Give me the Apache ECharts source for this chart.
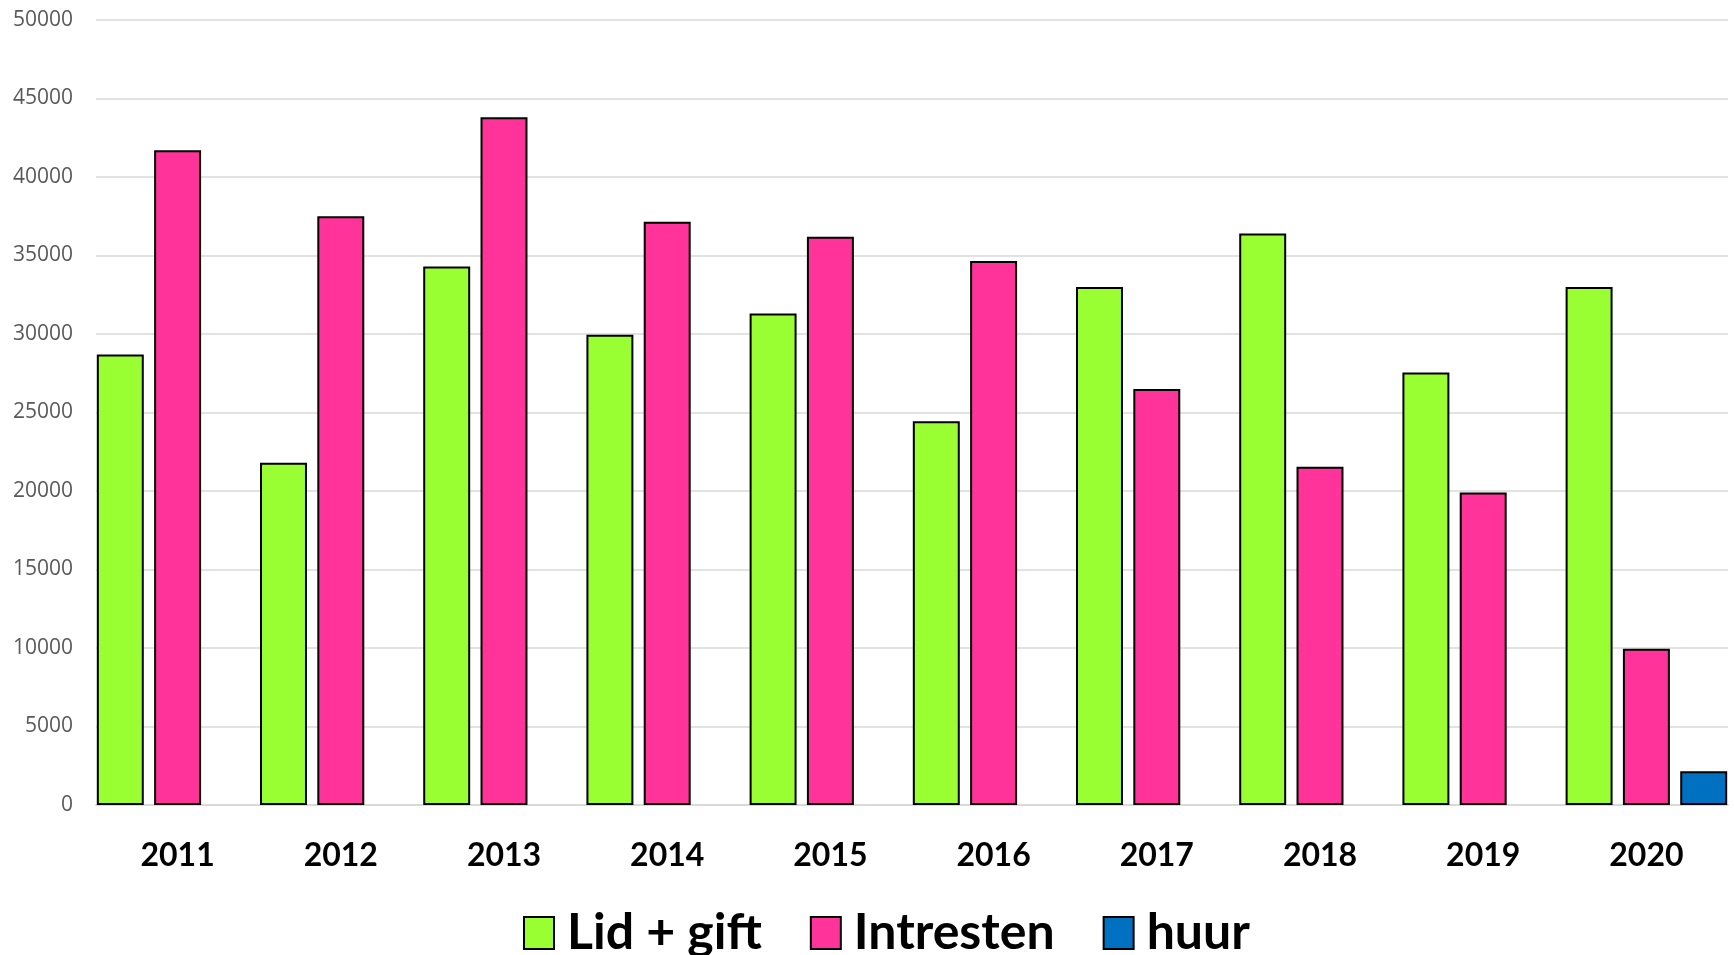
<!DOCTYPE html>
<html>
<head>
<meta charset="utf-8">
<script src="https://cdn.jsdelivr.net/npm/echarts@6/dist/echarts.min.js"></script>
<style>
  html, body { margin: 0; padding: 0; background: #fff; }
  #chart { width: 1734px; height: 955px; }
</style>
</head>
<body>
<div id="chart"></div>
<script>
  // jaren
  var years = ['2011', '2012', '2013', '2014', '2015', '2016', '2017', '2018', '2019', '2020'];
  // bedragen per reeks (huur alleen in 2020)
  var lidGift = [28700, 21800, 34300, 29950, 31300, 24450, 33000, 36400, 27550, 33000];
  var intresten = [41700, 37500, 43800, 37150, 36200, 34650, 26500, 21550, 19900, 9950];
  var huur = [null, null, null, null, null, null, null, null, null, 2150];
  var yTicks = { min: 0, max: 50000, interval: 5000 };

  var myChart = echarts.init(document.getElementById('chart'));

  var border = { borderColor: '#000', borderWidth: 2 };

  var option = {
    animation: false,
    grid: { left: 96, right: 6, top: 20, bottom: 150 },
    legend: {
      bottom: -3,
      left: 523,
      padding: 0,
      itemWidth: 30,
      itemHeight: 32,
      itemGap: 48,
      icon: 'rect',
      textStyle: {
        fontFamily: 'Lato',
        fontWeight: 'bold',
        fontSize: 50,
        color: '#000',
        padding: [0, 0, 0, 8]
      },
      data: ['Lid + gift', 'Intresten', 'huur']
    },
    xAxis: {
      type: 'category',
      data: years,
      axisLine: { lineStyle: { color: '#d9d9d9', width: 2 } },
      axisTick: { show: false },
      axisLabel: {
        margin: 35,
        fontFamily: 'Lato',
        fontWeight: 'bold',
        fontSize: 32,
        lineHeight: 32,
        color: '#000'
      }
    },
    yAxis: {
      type: 'value',
      min: yTicks.min,
      max: yTicks.max,
      interval: yTicks.interval,
      axisLine: { show: false },
      axisTick: { show: false },
      splitLine: { lineStyle: { color: '#d9d9d9', width: 1.5 } },
      axisLabel: {
        margin: 23,
        fontFamily: 'Open Sans',
        fontSize: 21,
        color: '#595959',
        formatter: function (v) { return String(v); }
      }
    },
    series: [
      {
        name: 'Lid + gift',
        type: 'bar',
        data: lidGift,
        barGap: '22%',
        barCategoryGap: '1%',
        itemStyle: Object.assign({ color: '#99ff33' }, border)
      },
      {
        name: 'Intresten',
        type: 'bar',
        data: intresten,
        itemStyle: Object.assign({ color: '#ff3399' }, border)
      },
      {
        name: 'huur',
        type: 'bar',
        data: huur,
        itemStyle: Object.assign({ color: '#0070c0' }, border)
      }
    ]
  };

  myChart.setOption(option);
</script>
</body>
</html>
